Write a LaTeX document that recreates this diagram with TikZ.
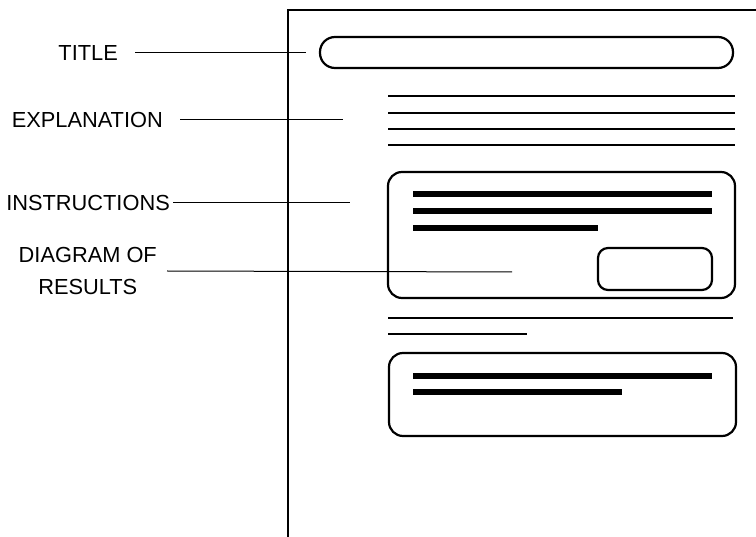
\documentclass[tikz,border=0pt]{standalone}
\usepackage{fontspec}
\setmainfont{Liberation Sans}
\begin{document}
\begin{tikzpicture}[x=1pt,y=-1pt,
  lbl/.style={anchor=east,inner sep=0pt,font=\fontsize{21.8}{32}\selectfont,align=center},
  lead/.style={line width=1pt},
  frame/.style={line width=2.6pt},
  box/.style={draw,line width=2.2pt,rounded corners=#1},
  rule/.style={line width=2pt},
  bar/.style={line width=5.5pt}]
\useasboundingbox (0,0) rectangle (756,537);
% page frame
\coordinate (ftop) at (288,537);
\coordinate (fcorner) at (288,10);
\coordinate (fright) at (756,10);
\draw[frame] (ftop) -- (fcorner) -- (fright);
% title box
\node[box=15pt,minimum width=413pt,minimum height=31pt,inner sep=0pt] (titlebox) at (526.5,52.5) {};
% explanation lines
\foreach \y/\n in {96/e1,113/e2,129/e3,145/e4}{
  \coordinate (\n a) at (388,\y); \coordinate (\n b) at (735,\y);
  \draw[rule] (\n a) -- (\n b);}
% instructions box
\node[box=14pt,minimum width=347pt,minimum height=126pt,inner sep=0pt] (instbox) at (561.5,235) {};
\coordinate (i1a) at (413,194); \coordinate (i1b) at (712,194);
\coordinate (i2a) at (413,211); \coordinate (i2b) at (712,211);
\coordinate (i3a) at (413,228); \coordinate (i3b) at (598,228);
\draw[bar] (i1a) -- (i1b);
\draw[bar] (i2a) -- (i2b);
\draw[bar] (i3a) -- (i3b);
\node[box=10pt,minimum width=114pt,minimum height=42pt,inner sep=0pt] (resbox) at (655,269) {};
% separator lines
\coordinate (s1a) at (388,318); \coordinate (s1b) at (733,318);
\coordinate (s2a) at (388,334); \coordinate (s2b) at (527,334);
\draw[line width=1.6pt] (s1a) -- (s1b);
\draw[line width=1.3pt] (s2a) -- (s2b);
% lower box
\node[box=14pt,minimum width=347pt,minimum height=83pt,inner sep=0pt] (lowbox) at (562.5,394.5) {};
\coordinate (l1a) at (413,376); \coordinate (l1b) at (712,376);
\coordinate (l2a) at (413,392); \coordinate (l2b) at (622,392);
\draw[bar] (l1a) -- (l1b);
\draw[bar] (l2a) -- (l2b);
% labels and leaders
\node[lbl] (tTitle) at (118,53) {TITLE};
\node[lbl] (tExpl) at (163,120) {EXPLANATION};
\node[lbl] (tInst) at (170,203) {INSTRUCTIONS};
\node[lbl] (tDiag) at (157,271) {DIAGRAM OF\\RESULTS};
\coordinate (eTitle) at (306,53);
\coordinate (eExpl) at (343,120);
\coordinate (eInst) at (350,203);
\coordinate (eDiag) at (512,272);
\draw[lead] ([xshift=17pt]tTitle.east) -- (eTitle);
\draw[lead] ([xshift=17pt]tExpl.east) -- (eExpl);
\draw[lead] ([xshift=3pt]tInst.east) -- (eInst);
\draw[lead] ([xshift=10pt]tDiag.east) -- (eDiag);
\end{tikzpicture}
\end{document}
